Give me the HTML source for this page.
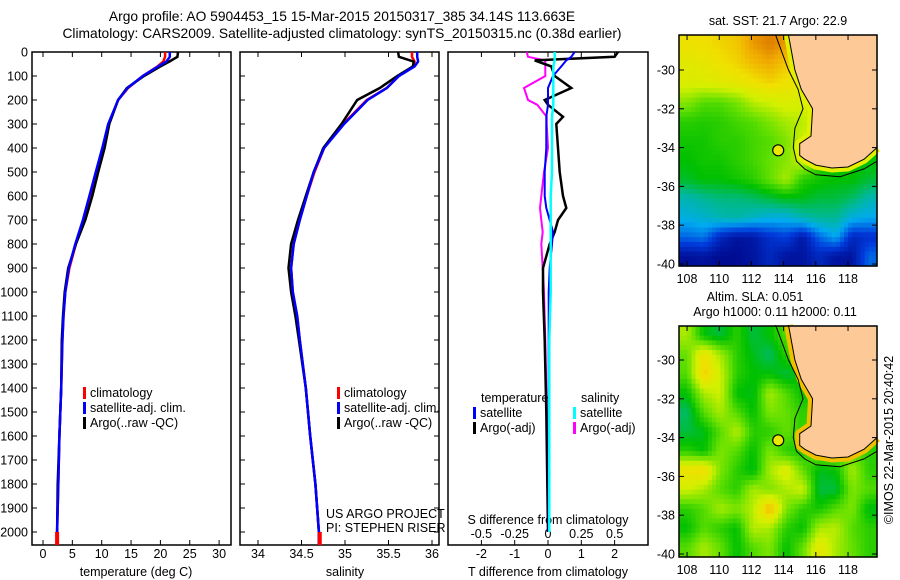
<!DOCTYPE html>
<html><head><meta charset="utf-8">
<style>
html,body{margin:0;padding:0;background:#fff;}
svg{display:block;font-family:"Liberation Sans",sans-serif;}
</style></head>
<body>
<svg id="fig" width="900" height="580" viewBox="0 0 900 580" xmlns="http://www.w3.org/2000/svg">
<g font-size="13.8" text-anchor="middle" fill="#000">
<text x="342" y="21">Argo profile: AO 5904453_15 15-Mar-2015 20150317_385 34.14S 113.663E</text>
<text x="342" y="38">Climatology: CARS2009. Satellite-adjusted climatology: synTS_20150315.nc (0.38d earlier)</text>
</g>
<g id="layer"></g>
</svg>
<script>
// ---------- data ----------
const depths = [0,20,40,60,100,150,200,300,400,500,600,700,800,900,1000,1100,1200,1400,1600,1800,2000,2050];
const tempClim = [20.8,20.8,20.5,19.5,17,14.5,12.8,11.2,10.2,9.1,8.0,6.9,5.6,4.5,3.8,3.5,3.3,3.1,2.8,2.6,2.4,2.4];
const tempSat  = [21.6,21.6,21.0,19.6,17,14.4,12.8,11.1,10.1,9.0,7.9,6.8,5.5,4.4,3.8,3.5,3.3,3.1,2.8,2.6,2.4,2.4];
const tempArgo = [23.0,22.9,21.5,20.0,17.2,14.3,12.8,11.3,10.5,9.4,8.4,7.2,5.6,4.3,3.7,3.4,3.2,3.1,2.8,2.5,2.4,2.4];
const salClim = [35.77,35.77,35.80,35.78,35.62,35.48,35.25,34.98,34.76,34.65,34.56,34.48,34.41,34.38,34.40,34.45,34.48,34.55,34.60,34.66,34.70,34.71];
const salSat  = [35.83,35.83,35.84,35.80,35.62,35.48,35.26,34.99,34.76,34.64,34.56,34.48,34.41,34.38,34.40,34.45,34.48,34.55,34.60,34.66,34.70,34.70];
const salArgo = [35.61,35.62,35.79,35.78,35.60,35.40,35.14,34.96,34.75,34.64,34.55,34.46,34.38,34.35,34.38,34.43,34.47,34.55,34.60,34.66,34.70,34.70];
const diffDepths = [0,20,35,60,100,150,200,220,270,300,400,500,600,650,700,750,800,900,1000,1200,1500,2000];
const tDiffArgo = [2.1,2.0,-0.4,0.1,0.2,0.7,-0.1,0,0.45,0.25,0.3,0.35,0.45,0.55,0.3,0.2,0.05,-0.15,-0.15,-0.1,-0.05,0];
const tDiffSat  = [0.8,0.7,0.55,0.4,0.15,0.0,0.0,0.0,-0.05,-0.05,-0.05,-0.1,-0.1,-0.05,0.05,0.15,0.12,0.05,0.02,0.02,0.02,0.02];
const sDiffSat  = [0.05,0.05,0.05,0.04,0.04,0.04,0.04,0.04,0.03,0.03,0.03,0.03,0.02,0.02,0.02,0.02,0.02,0.02,0.02,0.01,0.01,0.01];
const sDiffArgo = [-0.16,-0.15,-0.02,-0.02,-0.02,-0.18,-0.15,-0.08,-0.01,-0.01,0.0,-0.03,-0.05,-0.06,-0.05,-0.04,-0.05,-0.04,-0.03,-0.02,-0.01,0];
const depthTicks = [0,100,200,300,400,500,600,700,800,900,1000,1100,1200,1300,1400,1500,1600,1700,1800,1900,2000];
const tempTicks = [0,5,10,15,20,25,30];
const salTicks = [34,34.5,35,35.5,36];
const tDiffTicks = [-2,-1,0,1,2];
const sDiffTicks = [-0.5,-0.25,0,0.25,0.5];
const lonTicks = [108,110,112,114,116,118];
const latTicks = [-30,-32,-34,-36,-38,-40];
// SST map coarse grid (0=cold .. 1=warm), rows north->south, cols west->east
const sstGrid = [
[.85,.86,.88,.9,.97,1,.97,.92,.9,.5,.5,.5],
[.8,.82,.85,.88,.92,.95,.9,.86,.85,.5,.5,.5],
[.78,.78,.8,.82,.85,.88,.85,.82,.8,.5,.5,.5],
[.66,.6,.6,.64,.72,.75,.78,.76,.8,.5,.5,.5],
[.55,.54,.55,.58,.6,.65,.7,.72,.78,.5,.5,.5],
[.52,.52,.55,.55,.58,.6,.65,.75,.75,.5,.5,.5],
[.5,.52,.52,.55,.58,.62,.66,.75,.56,.5,.5,.5],
[.47,.5,.5,.52,.55,.62,.7,.55,.52,.5,.5,.46],
[.35,.38,.4,.4,.42,.45,.48,.48,.45,.45,.42,.35],
[.3,.32,.35,.36,.33,.3,.3,.35,.38,.38,.3,.28],
[.2,.22,.1,.05,.06,.12,.15,.06,.2,.28,.1,.12],
[.04,.05,.03,.03,.05,.1,.05,.05,.1,.05,.05,.2]];
// SLA map coarse grid
const slaGrid = [
[.7,.5,.45,.55,.45,.5,.6,.62,.7,.5,.5,.5],
[.62,.85,.7,.55,.48,.42,.55,.65,.7,.5,.5,.5],
[.6,.9,.75,.55,.5,.5,.45,.5,.6,.5,.5,.5],
[.5,.7,.75,.5,.48,.7,.6,.5,.55,.5,.5,.5],
[.42,.6,.7,.6,.5,.65,.62,.55,.6,.5,.5,.5],
[.45,.48,.6,.72,.55,.55,.62,.55,.68,.5,.5,.5],
[.55,.5,.65,.6,.5,.65,.55,.52,.7,.65,.6,.55],
[.85,.88,.65,.55,.48,.7,.8,.62,.48,.5,.7,.55],
[.75,.7,.6,.55,.7,.65,.7,.75,.45,.45,.65,.6],
[.55,.6,.7,.65,.72,.95,.65,.55,.52,.6,.65,.48],
[.5,.6,.55,.5,.72,.7,.55,.5,.7,.72,.6,.55],
[.6,.7,.62,.5,.6,.65,.5,.62,.82,.7,.62,.55]];
const coastLon = [114.3,114.7,115.1,115.8,115.7,115.0,115.0,115.3,116,117,118,119,119.8];
const coastLat = [-28.2,-30,-31,-32,-33.4,-33.8,-34.4,-34.6,-34.9,-35.05,-35.0,-34.6,-34.0];
const shelfLon = [113.5,114.3,114.9,115.2,114.7,114.6,114.8,115.3,116,117.5,119,119.8];
const shelfLat = [-28.2,-30,-31,-32,-33,-34,-34.7,-35.1,-35.4,-35.5,-35.1,-34.7];
const argoLon = 113.663, argoLat = -34.14;

// ---------- helpers ----------
const NS="http://www.w3.org/2000/svg";
const layer=document.getElementById('layer');
function mk(tag,attrs,parent){const e=document.createElementNS(NS,tag);for(const k in attrs)e.setAttribute(k,attrs[k]);(parent||layer).appendChild(e);return e;}
function txt(x,y,s,anchor,parent,size){const t=mk('text',{x:x,y:y,'text-anchor':anchor||'middle','font-size':size||12.5},parent);t.textContent=s;return t;}
const PT=52,PB=545;
const yD=d=>PT+d*0.24;
const xT=v=>43+v*5.87;
const xS=v=>258+(v-34)*87;
const xTd=v=>548+v*33.3;
const xSd=v=>548+v*133.3;

function panel(x0,x1,name){
  mk('rect',{x:x0,y:PT,width:x1-x0,height:PB-PT,fill:'none',stroke:'#000','stroke-width':1.5,});
}
function line(xs,ds,xf,color,name,w){
  const pts=xs.map((v,i)=>xf(v).toFixed(1)+','+yD(ds[i]).toFixed(1)).join(' ');
  const p=mk('polyline',{points:pts,fill:'none',stroke:color,'stroke-width':w||2.5});
  
  
}
function xticks(vals,xf,y,name,fmt){
  const g=mk('g',{});
  
  
  vals.forEach(v=>{const x=xf(v);
    mk('line',{x1:x,x2:x,y1:PB,y2:PB-5,stroke:'#000'},g);
    mk('line',{x1:x,x2:x,y1:PT,y2:PT+5,stroke:'#000'},g);
    if(y) txt(x,y,fmt?fmt(v):String(v),'middle',g);});
}
function legend(x,y,items){
  items.forEach((it,i)=>{const yy=y+i*15;
    const r=mk('rect',{x:x,y:yy-10,width:3,height:12,fill:it[1]});
    
    
    const t=txt(x+7,yy,it[0],'start');
    
    
  });
}

// ---------- panel 1: temperature ----------
panel(32,231,'temperature-panel');
const yt=mk('g',{});


depthTicks.forEach(d=>{const y=yD(d);mk('line',{x1:32,x2:37,y1:y,y2:y,stroke:'#000'},yt);txt(28,y+4.5,String(d),'end',yt);});
xticks(tempTicks,xT,558,'temperature-axis');
txt(136,576,'temperature (deg C)');
line(tempClim,depths,xT,'#ff0000','temp-climatology-line');
line(tempArgo,depths,xT,'#000','temp-argo-line');
line(tempSat,depths,xT,'#0000ff','temp-satellite-line');
mk('rect',{x:xT(2.4)-2,y:yD(2000),width:4,height:PB-yD(2000),fill:'#f00'});
legend(83,397,[['climatology','#f00'],['satellite-adj. clim.','#00f'],['Argo(..raw -QC)','#000']]);

// ---------- panel 2: salinity ----------
panel(240,439,'salinity-panel');
const yt2=mk('g',{});
depthTicks.forEach(d=>{const y=yD(d);mk('line',{x1:240,x2:245,y1:y,y2:y,stroke:'#000'},yt2);mk('line',{x1:434,x2:439,y1:y,y2:y,stroke:'#000'},yt2);});
xticks(salTicks,xS,558,'salinity-axis');
txt(345,576,'salinity');
line(salClim,depths,xS,'#ff0000','sal-climatology-line');
line(salArgo,depths,xS,'#000','sal-argo-line');
line(salSat,depths,xS,'#0000ff','sal-satellite-line');
mk('rect',{x:xS(34.71)-2,y:yD(2000),width:4,height:PB-yD(2000),fill:'#f00'});
legend(337,397,[['climatology','#f00'],['satellite-adj. clim.','#00f'],['Argo(..raw -QC)','#000']]);
txt(326,518,'US ARGO PROJECT','start');
txt(326,532,'PI: STEPHEN RISER','start');

// ---------- panel 3: differences ----------
panel(448,648,'difference-panel');
xticks(tDiffTicks,xTd,558,'t-difference-axis');
const sg=mk('g',{});


sDiffTicks.forEach(v=>txt(xSd(v),538,v===0?'0':String(v),'middle',sg));
txt(548,524,'S difference from climatology');
txt(548,576,'T difference from climatology');
line(sDiffArgo,diffDepths,xSd,'#ff00ff','s-diff-argo-line',2);
line(tDiffArgo,diffDepths,xTd,'#000','t-diff-argo-line',2.5);
line(tDiffSat,diffDepths,xTd,'#0000ff','t-diff-satellite-line',2);
line(sDiffSat,diffDepths,xSd,'#00ffff','s-diff-satellite-line',2.5);
txt(481,402,'temperature','start');
txt(581,402,'salinity','start');
legend(473,417,[['satellite','#00f'],['Argo(-adj)','#000']]);
legend(573,417,[['satellite','#0ff'],['Argo(-adj)','#f0f']]);

// ---------- maps ----------
const sstStops=[[0,[0,0,128]],[0.15,[0,60,220]],[0.28,[0,170,240]],[0.38,[0,184,150]],[0.5,[0,192,0]],[0.62,[100,224,0]],[0.75,[210,240,0]],[0.86,[240,224,0]],[0.95,[240,170,0]],[1,[224,128,0]]];
function cmap(v){for(let i=1;i<sstStops.length;i++){if(v<=sstStops[i][0]){const a=sstStops[i-1],b=sstStops[i];const t=(v-a[0])/(b[0]-a[0]);return 'rgb('+a[1].map((c,k)=>Math.round(c+(b[1][k]-c)*t)).join(',')+')';}}return 'rgb(224,128,0)';}
function drawMap(top,bottom,grid,name,titleLines,bandColor){
  const L=679,R=877;
  const lon0=107.5,lon1=119.8;
  const y30= top===35?70:360, y40= top===35?264:554;
  const ppd=(y40-y30)/10;
  const xL=lon=>L+(lon-lon0)*(R-L)/(lon1-lon0);
  const yL=lat=>y30+(-30-lat)*ppd;
  const g=mk('g',{});
  
  
  const nr=grid.length,nc=grid[0].length;
  const cw=(R-L)/nc,ch=(bottom-top)/nr;
  const sub=4;
  for(let r=0;r<nr*sub;r++)for(let c=0;c<nc*sub;c++){
    const fr=Math.min(nr-1,Math.max(0,(r+0.5)/sub-0.5)),fc=Math.min(nc-1,Math.max(0,(c+0.5)/sub-0.5));
    const r0=Math.floor(fr),c0=Math.floor(fc),r1=Math.min(nr-1,r0+1),c1=Math.min(nc-1,c0+1);
    const tr=fr-r0,tc=fc-c0;
    const v=grid[r0][c0]*(1-tr)*(1-tc)+grid[r0][c1]*(1-tr)*tc+grid[r1][c0]*tr*(1-tc)+grid[r1][c1]*tr*tc;
    const cell=mk('rect',{x:(L+c*cw/sub).toFixed(2),y:(top+r*ch/sub).toFixed(2),width:(cw/sub+0.6).toFixed(2),height:(ch/sub+0.6).toFixed(2),fill:cmap(v)},g);
    
    
  }
  const shelfPts=shelfLon.map((v,i)=>xL(v).toFixed(1)+','+yL(shelfLat[i]).toFixed(1));
  const coastPts=coastLon.map((v,i)=>xL(v).toFixed(1)+','+yL(coastLat[i]).toFixed(1));
  mk('polyline',{points:coastPts.join(' '),fill:'none',stroke:bandColor,'stroke-width':9,'stroke-linejoin':'round',},g);
  mk('polygon',{points:coastPts.join(' ')+' '+R+','+top,fill:'#fdc997',},g);
  mk('polyline',{points:coastPts.join(' '),fill:'none',stroke:'#000','stroke-width':1,},g);
  mk('polyline',{points:shelfPts.join(' '),fill:'none',stroke:'#000','stroke-width':1,},g);
  mk('circle',{cx:xL(argoLon),cy:yL(argoLat),r:5.5,fill:'#e8e800',stroke:'#000','stroke-width':1.2,},g);
  mk('rect',{x:L,y:top,width:R-L,height:bottom-top,fill:'none',stroke:'#000','stroke-width':1.5},g);
  latTicks.forEach(la=>{const y=yL(la);mk('line',{x1:L,x2:L+5,y1:y,y2:y,stroke:'#000'},g);mk('line',{x1:R-5,x2:R,y1:y,y2:y,stroke:'#000'},g);txt(675,y+4.5,String(la),'end',g);});
  lonTicks.forEach(lo=>{const x=xL(lo);mk('line',{x1:x,x2:x,y1:bottom,y2:bottom-5,stroke:'#000'},g);mk('line',{x1:x,x2:x,y1:top,y2:top+5,stroke:'#000'},g);txt(x,bottom+17,String(lo),'middle',g);});
  titleLines.forEach(tl=>txt(tl[0],tl[1],tl[2],'middle',g));
}
drawMap(35,266,sstGrid,'sst-map',[[778,25,'sat. SST: 21.7 Argo: 22.9']],'#e0f000');
drawMap(326,557,slaGrid,'sla-map',[[755,301,'Altim. SLA: 0.051'],[775,316,'Argo h1000: 0.11 h2000: 0.11']],'#f0c000');
const cr=txt(0,0,'©IMOS 22-Mar-2015 20:40:42','middle');
cr.setAttribute('transform','translate(893,440) rotate(-90)');


</script>
</body></html>
